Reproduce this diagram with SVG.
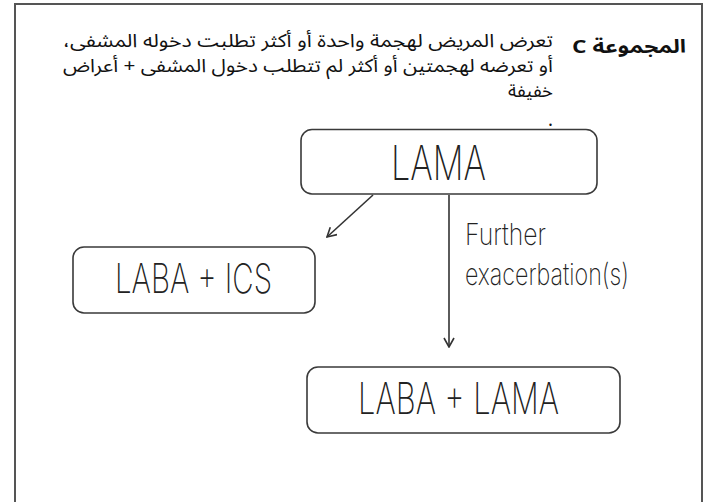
<svg xmlns="http://www.w3.org/2000/svg" width="709" height="502" viewBox="0 0 709 502">
<style>
.frame{fill:none;stroke:#555;stroke-width:2}
.box{fill:#fff;stroke:#3a3a3a;stroke-width:1.6}
.lbl{font-family:Inter,"DejaVu Sans","Liberation Sans",sans-serif;font-weight:200;fill:#222}
.ar{font-family:"Noto Sans Arabic","Noto Sans","DejaVu Sans",sans-serif;fill:#111;font-size:18.5px}
.conn{fill:none;stroke:#333;stroke-width:1.6}
</style>
<defs>
<marker id="open" viewBox="0 0 12 12" refX="11" refY="6" markerWidth="12" markerHeight="12" markerUnits="userSpaceOnUse" orient="auto">
<path d="M2,1 L11,6 L2,11" fill="none" stroke="#333" stroke-width="1.6"/>
</marker>
</defs>
<rect width="709" height="502" fill="#fff"/>
<path class="frame" d="M15,503 V4 H702 V503"/>
<g id="header">
<text class="ar" x="686" y="53" direction="rtl" text-anchor="start" font-weight="bold" font-size="21" textLength="114" lengthAdjust="spacingAndGlyphs">المجموعة C</text>
<text class="ar" x="553" y="47" direction="rtl" text-anchor="start" textLength="490" lengthAdjust="spacingAndGlyphs">تعرض المريض لهجمة واحدة أو أكثر تطلبت دخوله المشفى،</text>
<text class="ar" x="553" y="72" direction="rtl" text-anchor="start" textLength="490" lengthAdjust="spacingAndGlyphs">أو تعرضه لهجمتين أو أكثر لم تتطلب دخول المشفى + أعراض</text>
<text class="ar" x="553" y="97" direction="rtl" text-anchor="start">خفيفة</text>
<text class="ar" x="553" y="126" direction="rtl" text-anchor="start" font-size="13">.</text>
</g>
<g id="connectors">
<line class="conn" x1="373" y1="195" x2="327" y2="237" marker-end="url(#open)"/>
<line class="conn" x1="449" y1="195" x2="449" y2="347" marker-end="url(#open)"/>
<text class="lbl" x="465" y="245" font-size="30" textLength="81" lengthAdjust="spacingAndGlyphs">Further</text>
<text class="lbl" x="465" y="285" font-size="30" textLength="164" lengthAdjust="spacingAndGlyphs">exacerbation(s)</text>
</g>
<g id="lama">
<rect class="box" x="301" y="129.5" width="296" height="64.5" rx="11"/>
<text class="lbl" x="391" y="180" font-size="48" textLength="95" lengthAdjust="spacingAndGlyphs">LAMA</text>
</g>
<g id="laba-ics">
<rect class="box" x="73" y="247" width="242" height="66" rx="11"/>
<text class="lbl" x="115" y="293" font-size="41" textLength="157" lengthAdjust="spacingAndGlyphs">LABA + ICS</text>
</g>
<g id="laba-lama">
<rect class="box" x="307" y="367" width="313" height="66" rx="11"/>
<text class="lbl" x="358" y="414" font-size="44" textLength="201" lengthAdjust="spacingAndGlyphs">LABA + LAMA</text>
</g>
</svg>
